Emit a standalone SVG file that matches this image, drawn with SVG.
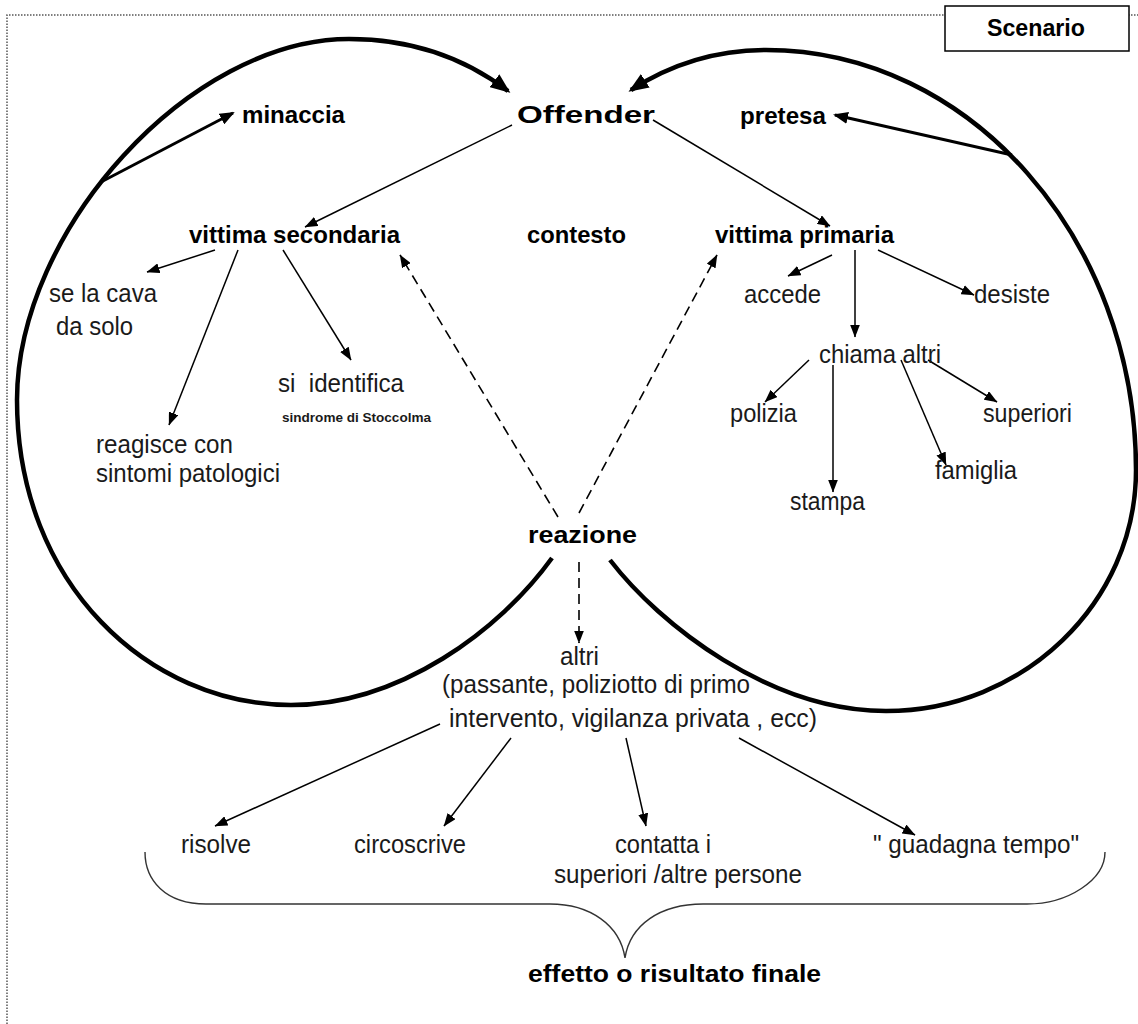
<svg xmlns="http://www.w3.org/2000/svg" width="1138" height="1024" viewBox="0 0 1138 1024">
<style>
text{font-family:"Liberation Sans",Arial,sans-serif;fill:#1a1a1a}
.b{font-weight:bold;font-size:24px;fill:#000}
.r{font-size:26px}
.thin{fill:none;stroke:#000;stroke-width:1.5}
.dash{fill:none;stroke:#000;stroke-width:1.6;stroke-dasharray:10 6}
.med{fill:none;stroke:#000;stroke-width:3}
.thick{fill:none;stroke:#000;stroke-width:4.5}
</style>
<defs>
<marker id="a" viewBox="0 0 13 10" refX="12.5" refY="5" markerWidth="13" markerHeight="10" markerUnits="userSpaceOnUse" orient="auto"><path d="M0,0L13,5L0,10z"/></marker>
<marker id="m" viewBox="0 0 15 12" refX="13" refY="6" markerWidth="15" markerHeight="12" markerUnits="userSpaceOnUse" orient="auto"><path d="M0,0L15,6L0,12z"/></marker>
<marker id="t" viewBox="0 0 20 16" refX="17" refY="8" markerWidth="20" markerHeight="16" markerUnits="userSpaceOnUse" orient="auto"><path d="M0,0L20,8L0,16z"/></marker>
</defs>
<rect width="1138" height="1024" fill="#fff"/>
<path d="M7,1024V15H1138" fill="none" stroke="#555" stroke-width="1.5" stroke-dasharray="1.5 1.5"/>
<g id="scenario">
<rect x="945" y="6" width="184" height="45" fill="#fff" stroke="#000" stroke-width="1.5"/>
<text class="b" x="987" y="36" font-size="22" textLength="98" lengthAdjust="spacingAndGlyphs">Scenario</text>
</g>
<g id="connectors">
<path class="thick" d="M552,558C500,630 400,705 291,705C150,705 17,585 17,400C17,230 190,39 349,39C420,39 470,62 508,91" marker-end="url(#t)"/>
<path class="thick" d="M610,560C660,625 770,711 886,711C1023,711 1136,603 1136,470C1136,239 970,50 766,50C710,50 665,68 631,90" marker-end="url(#t)"/>
<path class="med" d="M101,182L233,113" marker-end="url(#m)"/>
<path class="med" d="M1012,155L835,115" marker-end="url(#m)"/>
<path class="thin" d="M512,125L305,227" marker-end="url(#a)"/>
<path class="thin" d="M653,120L830,226" marker-end="url(#a)"/>
<path class="thin" d="M215,250L147,272" marker-end="url(#a)"/>
<path class="thin" d="M238,250L169,425" marker-end="url(#a)"/>
<path class="thin" d="M283,250L351,360" marker-end="url(#a)"/>
<path class="thin" d="M832,255L788,276" marker-end="url(#a)"/>
<path class="thin" d="M855,250L855,337" marker-end="url(#a)"/>
<path class="thin" d="M878,250L974,295" marker-end="url(#a)"/>
<path class="thin" d="M809,360L765,402" marker-end="url(#a)"/>
<path class="thin" d="M833,365L833,492" marker-end="url(#a)"/>
<path class="thin" d="M901,360L946,465" marker-end="url(#a)"/>
<path class="thin" d="M928,360L997,402" marker-end="url(#a)"/>
<path class="dash" d="M558,517L400,255" marker-end="url(#a)"/>
<path class="dash" d="M579,513L717,255" marker-end="url(#a)"/>
<path class="dash" d="M579,562L579,643" marker-end="url(#a)"/>
<path class="thin" d="M440,724L215,826" marker-end="url(#a)"/>
<path class="thin" d="M511,738L444,826" marker-end="url(#a)"/>
<path class="thin" d="M626,738L646,826" marker-end="url(#a)"/>
<path class="thin" d="M739,738L915,835" marker-end="url(#a)"/>
<path d="M145,852C145,880 165,904 206,904L550,904C590,904 620,925 625,958C630,925 660,904 703,904L1027,904C1068,904 1105,880 1105,852" fill="none" stroke="#333" stroke-width="1.4"/>
</g>
<g id="offender"><text class="b" x="517" y="123" font-size="31" textLength="138" lengthAdjust="spacingAndGlyphs">Offender</text></g>
<g id="minaccia"><text class="b" x="242" y="123" textLength="103" lengthAdjust="spacingAndGlyphs">minaccia</text></g>
<g id="pretesa"><text class="b" x="740" y="124" textLength="86" lengthAdjust="spacingAndGlyphs">pretesa</text></g>
<g id="vittima-secondaria"><text class="b" x="189" y="243" textLength="211" lengthAdjust="spacingAndGlyphs">vittima secondaria</text></g>
<g id="contesto"><text class="b" x="527" y="243" textLength="99" lengthAdjust="spacingAndGlyphs">contesto</text></g>
<g id="vittima-primaria"><text class="b" x="715" y="243" textLength="179" lengthAdjust="spacingAndGlyphs">vittima primaria</text></g>
<g id="se-la-cava"><text class="r" x="49" y="302" textLength="108" lengthAdjust="spacingAndGlyphs">se la cava</text><text class="r" x="56" y="335" textLength="77" lengthAdjust="spacingAndGlyphs">da solo</text></g>
<g id="si-identifica"><text class="r" x="278" y="392" xml:space="preserve" textLength="126" lengthAdjust="spacingAndGlyphs">si  identifica</text><text x="282" y="422" font-size="13" font-weight="bold" textLength="149" lengthAdjust="spacingAndGlyphs">sindrome di Stoccolma</text></g>
<g id="reagisce"><text class="r" x="96" y="453" textLength="137" lengthAdjust="spacingAndGlyphs">reagisce con</text><text class="r" x="96" y="482" textLength="184" lengthAdjust="spacingAndGlyphs">sintomi patologici</text></g>
<g id="accede"><text class="r" x="744" y="303" textLength="77" lengthAdjust="spacingAndGlyphs">accede</text></g>
<g id="desiste"><text class="r" x="974" y="303" textLength="76" lengthAdjust="spacingAndGlyphs">desiste</text></g>
<g id="chiama-altri"><text class="r" x="819" y="363" textLength="122" lengthAdjust="spacingAndGlyphs">chiama altri</text></g>
<g id="polizia"><text class="r" x="730" y="422" textLength="67" lengthAdjust="spacingAndGlyphs">polizia</text></g>
<g id="superiori"><text class="r" x="983" y="422" textLength="89" lengthAdjust="spacingAndGlyphs">superiori</text></g>
<g id="famiglia"><text class="r" x="935" y="479" textLength="82" lengthAdjust="spacingAndGlyphs">famiglia</text></g>
<g id="stampa"><text class="r" x="790" y="510" textLength="75" lengthAdjust="spacingAndGlyphs">stampa</text></g>
<g id="reazione"><text class="b" x="528" y="543" font-size="29" textLength="109" lengthAdjust="spacingAndGlyphs">reazione</text></g>
<g id="altri"><text class="r" x="560" y="665" textLength="39" lengthAdjust="spacingAndGlyphs">altri</text><text class="r" x="442" y="693" textLength="308" lengthAdjust="spacingAndGlyphs">(passante, poliziotto di primo</text><text class="r" x="449" y="727" textLength="368" lengthAdjust="spacingAndGlyphs">intervento, vigilanza privata , ecc)</text></g>
<g id="risolve"><text class="r" x="181" y="853" textLength="70" lengthAdjust="spacingAndGlyphs">risolve</text></g>
<g id="circoscrive"><text class="r" x="354" y="853" textLength="112" lengthAdjust="spacingAndGlyphs">circoscrive</text></g>
<g id="contatta"><text class="r" x="615" y="853" textLength="96" lengthAdjust="spacingAndGlyphs">contatta i</text><text class="r" x="554" y="883" textLength="248" lengthAdjust="spacingAndGlyphs">superiori /altre persone</text></g>
<g id="guadagna-tempo"><text class="r" x="873" y="853" textLength="206" lengthAdjust="spacingAndGlyphs">" guadagna tempo"</text></g>
<g id="effetto"><text class="b" x="528" y="982" font-size="27" textLength="293" lengthAdjust="spacingAndGlyphs">effetto o risultato finale</text></g>
</svg>
